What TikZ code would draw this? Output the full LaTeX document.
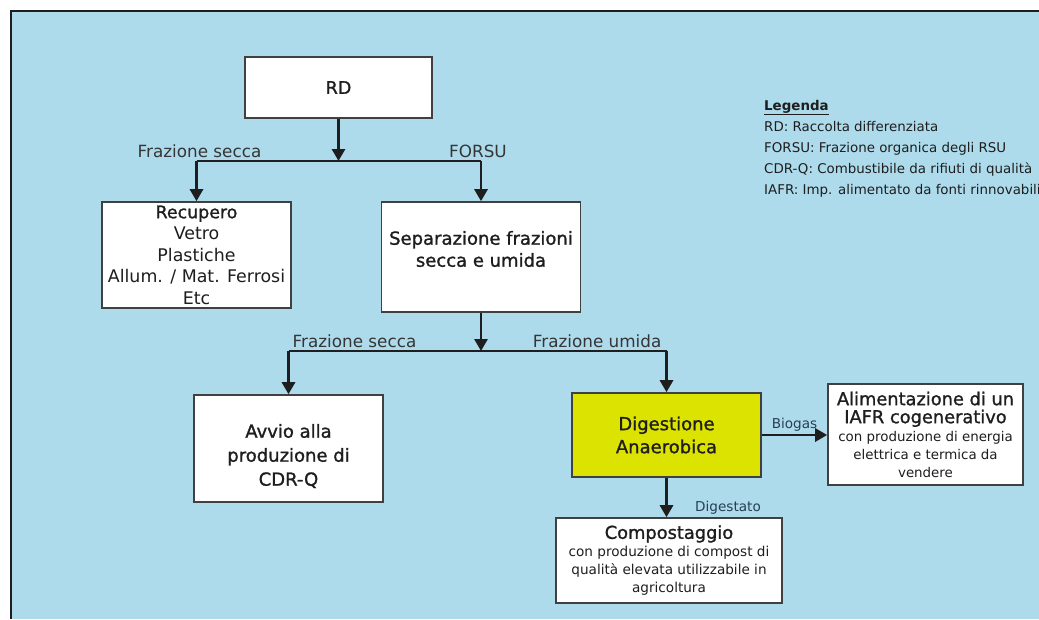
\documentclass[tikz,border=0pt]{standalone}
\usepackage{fontspec}
\setmainfont{DejaVu Sans}
\newfontfamily\heavy{DejaVu Sans}[FakeBold=1.2]
\usetikzlibrary{arrows.meta,positioning,calc}

\definecolor{panelblue}{RGB}{173,219,236}
\definecolor{dayellow}{RGB}{221,227,0}
\definecolor{inkgray}{RGB}{30,30,30}
\definecolor{tagblue}{RGB}{38,64,82}
\newcommand{\fsz}[2]{\fontsize{#1}{#2}\selectfont}

\begin{document}
\begin{tikzpicture}[
		x=1pt,y=-1pt,
		>={Triangle[width=13pt,length=12pt]},
		every node/.style={text=inkgray},
		box/.style={draw=inkgray!85, line width=1.6pt, fill=white, inner sep=0pt, align=center},
		flow/.style={->, line width=2.8pt, draw=inkgray},
		rail/.style={line width=2pt, draw=inkgray},
		tag/.style={font=\fsz{16.8}{20}, text=inkgray!90, inner sep=1pt},
		small/.style={font=\fsz{13.6}{18}, text=tagblue, inner sep=1pt}
		]
		
		% =========================
		% Background panel
		% =========================
		\useasboundingbox (0,0) rectangle (1039,619);
		\fill[panelblue] (11,11) rectangle (1039,619);
		\draw[line width=2pt, inkgray] (11,619) -- (11,11) -- (1039,11);
		
		% =========================
		% Top: RD and first split
		% =========================
		\node[box, minimum width=187pt, minimum height=61pt, font=\heavy\fsz{17.5}{21}] (rd) at (338.5,87.5) {RD};
		
		\node[box, minimum width=189pt, minimum height=106pt, font=\fsz{17.4}{21.5}] (rec) at (196.5,255)
		{{\heavy Recupero}\\Vetro\\Plastiche\\Allum. / Mat. Ferrosi\\Etc};
		
		\node[box, minimum width=199pt, minimum height=110pt] (sep) at (481,257) {};
		\node[font=\heavy\fsz{18}{22}, align=center] (septxt) at (481,249) {Separazione frazioni\\secca e umida};
		
		\coordinate (j1) at (338.5,161);
		\coordinate (j1l) at (rec.north |- j1);
		\coordinate (j1r) at (sep.north |- j1);
		
		\draw[flow] (rd) -- (j1);
		\draw[rail] (j1l) -- (j1r);
		\draw[flow] (j1l) -- (rec);
		\draw[flow] (j1r) -- (sep);
		
		\node[tag, anchor=south] (secca1) at ($(j1l)+(3,-2)$) {Frazione secca};
		\node[tag, anchor=south] (forsu) at ($(j1r)+(-3,-2)$) {FORSU};
		
		% =========================
		% Middle: second split
		% =========================
		\node[box, minimum width=189pt, minimum height=107pt] (avv) at (288.5,448.5) {};
		\node[font=\heavy\fsz{18}{24}, align=center] (avvtxt) at (288.5,456) {Avvio alla\\produzione di\\CDR-Q};
		
		\node[box, fill=dayellow, minimum width=189pt, minimum height=84pt, font=\heavy\fsz{18}{23}] (dig) at (666.5,435)
		{Digestione\\Anaerobica};
		
		\coordinate (j2) at (481,351);
		\coordinate (j2l) at (avv.north |- j2);
		\coordinate (j2r) at (dig.north |- j2);
		
		\draw[flow] (sep) -- (j2);
		\draw[rail] (j2l) -- (j2r);
		\draw[flow] (j2l) -- (avv);
		\draw[flow] (j2r) -- (dig);
		
		\node[tag, anchor=south west] (secca2) at ($(j2l)+(3,-2)$) {Frazione secca};
		\node[tag, anchor=south east] (umida) at ($(j2r)+(-4,-2)$) {Frazione umida};
		
		% =========================
		% Bottom right: outputs of the digester
		% =========================
		\node[box, minimum width=195pt, minimum height=101pt, font=\fsz{13.4}{18}] (ali) at (925.5,434.5)
		{{\heavy\fsz{17.8}{21}Alimentazione di un}\\{\heavy\fsz{17.8}{21}IAFR cogenerativo}\\con produzione di energia\\elettrica e termica da\\vendere};
		
		\node[box, minimum width=226pt, minimum height=85pt, font=\fsz{13.6}{18}] (comp) at (669,560.5)
		{{\heavy\fsz{17.8}{21}Compostaggio}\\con produzione di compost di\\qualità elevata utilizzabile in\\agricoltura};
		
		\draw[flow] (dig.east) -- (dig.east -| ali.west) node[small, midway, above=1pt] (biogas) {Biogas};
		\draw[flow] (dig.south) -- (dig.south |- comp.north);
		\node[small] (digest) at (728,508) {Digestato};
		
		% =========================
		% Legend
		% =========================
		\node[anchor=north west, align=left, font=\fsz{13.4}{21}, inner sep=0pt] (leg) at (764,100)
		{\underline{\textbf{Legenda}}\\
			RD: Raccolta differenziata\\
			FORSU: Frazione organica degli RSU\\
			CDR-Q: Combustibile da rifiuti di qualità\\
			IAFR: Imp. alimentato da fonti rinnovabili};
		
	\end{tikzpicture}
\end{document}
